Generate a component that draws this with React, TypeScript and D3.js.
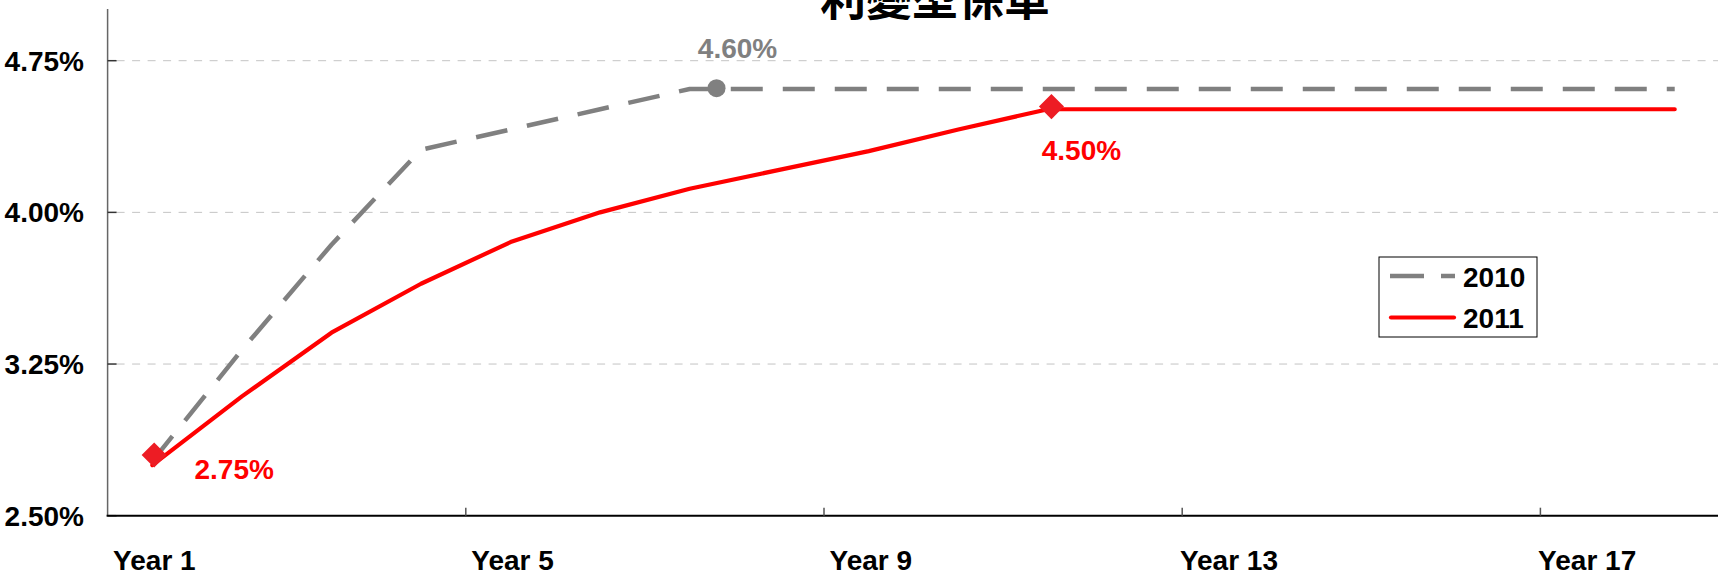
import React from "react";
import * as d3 from "d3";

const title = "利變型保單";
const years: number[] = [1, 2, 3, 4, 5, 6, 7, 8, 9, 10, 11, 12, 13, 14, 15, 16, 17, 18];
const values2010: number[] = [2.77, 3.32, 3.84, 4.31, 4.41, 4.51, 4.61, 4.61, 4.61, 4.61, 4.61, 4.61, 4.61, 4.61, 4.61, 4.61, 4.61, 4.61];
const values2011: number[] = [2.75, 3.09, 3.405, 3.647, 3.853, 4.0, 4.117, 4.21, 4.303, 4.41, 4.51, 4.51, 4.51, 4.51, 4.51, 4.51, 4.51, 4.51];
const yTicks: number[] = [2.5, 3.25, 4.0, 4.75];
const xTickLabels: { year: number; label: string }[] = [
  { year: 1, label: "Year 1" },
  { year: 5, label: "Year 5" },
  { year: 9, label: "Year 9" },
  { year: 13, label: "Year 13" },
  { year: 17, label: "Year 17" },
];
const xTickMarks: number[] = [4.5, 8.5, 12.5, 16.5];
const markers2010: { year: number; value: number; label: string }[] = [
  { year: 7.3, value: 4.614, label: "4.60%" },
];
const markers2011: { year: number; value: number; label: string }[] = [
  { year: 1.02, value: 2.8, label: "2.75%" },
  { year: 11.04, value: 4.523, label: "4.50%" },
];
const seriesNames = ["2010", "2011"];

const W = 1718;
const H = 576;
const GRAY = "#808080";
const RED = "#FF0000";
const MARKER_RED = "#ED1C24";
const FONT = "'Liberation Sans', Arial, sans-serif";
const FS = 28;

export default function App() {
  const x = d3.scaleLinear().domain([0.5, 18.5]).range([107.6, 107.6 + 18 * 89.55]);
  const y = d3.scaleLinear().domain([2.5, 4.75]).range([515.7, 60.7]);
  const axisX = x(0.5);
  const axisY = y(2.5);

  const line = d3
    .line<number>()
    .x((_, i) => x(years[i]))
    .y((d) => y(d));

  const fmt = (v: number) => d3.format(".2f")(v) + "%";

  const diamond = d3.symbol().type(d3.symbolDiamond2 ?? d3.symbolSquare).size(400)();

  const labelOffsets = [
    { dx: 80, dy: 24 },
    { dx: 30, dy: 53 },
  ];

  return (
    <svg
      width={W}
      height={H}
      viewBox={`0 0 ${W} ${H}`}
      style={{ position: "fixed", left: 0, top: 0, background: "#fff" }}
    >
      <rect x={0} y={0} width={W} height={H} fill="#fff" />
      {/* title */}
      <text
        x={935}
        y={15}
        textAnchor="middle"
        fontFamily="'Noto Sans CJK TC', 'Noto Sans CJK SC', sans-serif"
        fontWeight="bold"
        fontSize={46}
        fill="#000"
      >
        {title}
      </text>

      {/* gridlines */}
      {yTicks
        .filter((t) => t > 2.5)
        .map((t) => (
          <line
            key={"g" + t}
            x1={axisX + 9}
            x2={W}
            y1={y(t)}
            y2={y(t)}
            stroke="#c4c4c4"
            strokeWidth={1}
            strokeDasharray="8,7.5"
          />
        ))}

      {/* y axis */}
      <line x1={axisX} x2={axisX} y1={9} y2={axisY} stroke="#666" strokeWidth={1.5} />
      {yTicks.map((t) => (
        <g key={"yt" + t}>
          <line x1={axisX} x2={axisX + 9} y1={y(t)} y2={y(t)} stroke="#333" strokeWidth={1.5} />
          <text
            x={84}
            y={y(t)}
            dy="0.36em"
            textAnchor="end"
            fontFamily={FONT}
            fontWeight="bold"
            fontSize={FS}
            fill="#000"
          >
            {fmt(t)}
          </text>
        </g>
      ))}

      {/* x axis */}
      <line x1={axisX - 1} x2={W} y1={axisY} y2={axisY} stroke="#000" strokeWidth={2} />
      {xTickMarks.map((t) => (
        <line key={"xt" + t} x1={x(t)} x2={x(t)} y1={axisY} y2={axisY - 8} stroke="#555" strokeWidth={1.5} />
      ))}
      {xTickLabels.map((d) => (
        <text
          key={d.label}
          x={x(d.year) + 2}
          y={570}
          textAnchor="middle"
          fontFamily={FONT}
          fontWeight="bold"
          fontSize={FS}
          fill="#000"
        >
          {d.label}
        </text>
      ))}

      {/* series 2010 */}
      <path
        d={line(values2010) ?? ""}
        fill="none"
        stroke={GRAY}
        strokeWidth={4.5}
        strokeDasharray="32,20"
        strokeLinejoin="round"
      />
      {/* series 2011 */}
      <path
        d={line(values2011) ?? ""}
        fill="none"
        stroke={RED}
        strokeWidth={4.2}
        strokeLinejoin="round"
        strokeLinecap="round"
      />

      {/* markers */}
      {markers2010.map((m) => (
        <g key={"m10" + m.year}>
          <circle cx={x(m.year)} cy={y(m.value)} r={9} fill={GRAY} />
          <text
            x={x(m.year) + 21}
            y={58}
            textAnchor="middle"
            fontFamily={FONT}
            fontWeight="bold"
            fontSize={FS}
            fill={GRAY}
          >
            {m.label}
          </text>
        </g>
      ))}
      {markers2011.map((m, i) => (
        <g key={"m11" + m.year}>
          <path
            d={diamond ?? ""}
            transform={`translate(${x(m.year)},${y(m.value)})`}
            fill={MARKER_RED}
          />
          <text
            x={x(m.year) + labelOffsets[i].dx}
            y={y(m.value) + labelOffsets[i].dy}
            textAnchor="middle"
            fontFamily={FONT}
            fontWeight="bold"
            fontSize={FS}
            fill={RED}
          >
            {m.label}
          </text>
        </g>
      ))}

      {/* legend */}
      <g>
        <rect x={1379} y={257} width={158} height={80} fill="#fff" stroke="#000" strokeWidth={1} />
        <line x1={1390} x2={1455} y1={276} y2={276} stroke={GRAY} strokeWidth={4.5} strokeDasharray="34,17" />
        <text x={1463} y={287} fontFamily={FONT} fontWeight="bold" fontSize={FS} fill="#000">
          {seriesNames[0]}
        </text>
        <line x1={1391} x2={1454} y1={317.5} y2={317.5} stroke={RED} strokeWidth={4.2} strokeLinecap="round" />
        <text x={1463} y={328} fontFamily={FONT} fontWeight="bold" fontSize={FS} fill="#000">
          {seriesNames[1]}
        </text>
      </g>
    </svg>
  );
}
